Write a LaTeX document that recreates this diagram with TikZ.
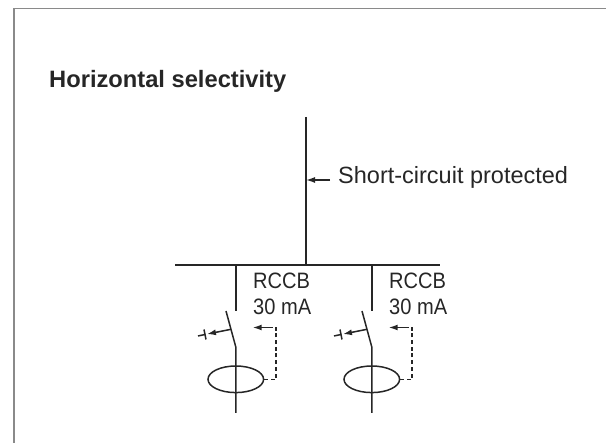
\documentclass[tikz,border=0pt]{standalone}
\usepackage{fontspec}
\setmainfont{Liberation Sans}
\newfontfamily\narrowfont[FakeStretch=0.9]{Liberation Sans}
\usetikzlibrary{arrows.meta,shapes.geometric}
\definecolor{ink}{HTML}{262626}
\definecolor{framegray}{HTML}{8A8A8A}
\tikzset{
  wire/.style={ink, line width=1.5pt},
  tip/.style={wire, -{Latex[length=9pt,width=6pt]}},
  label/.style={anchor=base west, inner sep=0pt, text=ink, font=\fontsize{23.5}{28}\selectfont},
  rating/.style={label, font=\narrowfont\fontsize{22.3}{26}\selectfont},
}

\begin{document}
\begin{tikzpicture}[x=1pt,y=-1pt]
    \useasboundingbox (0,0) rectangle (606,443);
    \draw[framegray, line width=1.6pt] (14,443) -- (14,8.7) -- (606,8.7);
    \node[label, font=\bfseries\fontsize{23.7}{28}\selectfont] (title) at (49,88) {Horizontal selectivity};

    % feeder and busbar
    \coordinate (supply) at (306,117);
    \coordinate (feed) at (306,265);
    \coordinate (busL) at (175,265);
    \coordinate (busR) at (440,265);
    \draw[wire] (supply) -- (feed);
    \draw[wire, line width=2pt] (busL) -- (busR);
    \node[label] (scp) at (338,183.3) {Short-circuit protected};
    \coordinate (scptail) at (330,180);
    \coordinate (scphead) at (306,180);
    \draw[tip] (scptail) -- (scphead);

    % two RCCB branches
    \foreach \dx/\i in {0/1,136/2}{
      \coordinate (tap\i) at (235.8+\dx,265);
      \coordinate (open\i) at (235.8+\dx,311);
      \coordinate (blade\i) at (226+\dx,311);
      \coordinate (pivot\i) at (235.8+\dx,347);
      \coordinate (load\i) at (235.8+\dx,413);
      \draw[wire] (tap\i) -- (open\i);
      \draw[wire] (blade\i) -- (pivot\i) -- (load\i);
      % latch
      \coordinate (push\i) at (231+\dx,329.3);
      \coordinate (latch\i) at (205+\dx,334.5);
      \coordinate (latchend\i) at (198+\dx,336);
      \draw[tip, shorten >=2pt] (push\i) -- (latch\i);
      \draw[wire] (latch\i) -- (latchend\i);
      \draw[wire] (204+\dx,329.5) -- (206+\dx,339.5);
      % summation transformer and trip
      \node[wire, draw, ellipse, minimum width=55.6pt, minimum height=26.6pt, inner sep=0pt] (ct\i) at (235.8+\dx,379.3) {};
      \coordinate (relay\i) at (276+\dx,327.5);
      \coordinate (relayarm\i) at (273+\dx,327.5);
      \coordinate (trigger\i) at (252.7+\dx,327.5);
      \draw[wire, dash pattern=on 4pt off 2.7pt] (ct\i.east) -| (relay\i);
      \draw[tip] (relayarm\i) -- (trigger\i);
      \node[rating] (type\i) at (253+\dx,289) {RCCB};
      \node[rating] (trip\i) at (253+\dx,315) {30 mA};
    }
\end{tikzpicture}
\end{document}
